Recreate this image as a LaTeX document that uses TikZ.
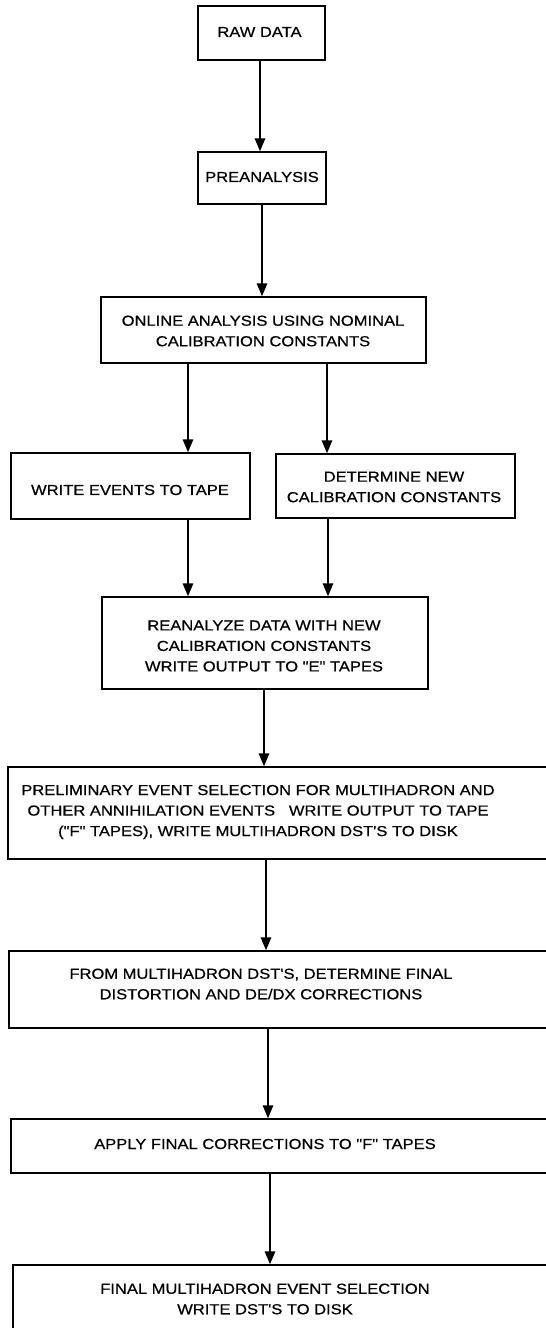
\documentclass[tikz,border=0pt]{standalone}
\usepackage{fontspec}
\newfontfamily\boxfont[FakeStretch=1.14,FakeBold=0.6]{Liberation Sans}
\usetikzlibrary{arrows.meta}
\begin{document}
\begin{tikzpicture}[x=1pt,y=-1pt,
  box/.style={draw,line width=1.5pt,inner sep=0pt},
  txt/.style={align=center,font=\boxfont\fontsize{14.5}{20.5}\selectfont,inner sep=0pt},
  arr/.style={line width=1.6pt,-{Triangle[length=13pt,width=10.5pt]}}]
\useasboundingbox (0,0) rectangle (546,1328);
\clip (0,0) rectangle (546,1328);
\fill[white] (0,0) rectangle (546,1328);
% boxes
\node[box,minimum width=127pt,minimum height=54pt] (raw) at (261.5,33) {};
\node[txt] at (259.5,32) {RAW DATA};
\node[box,minimum width=128pt,minimum height=52pt] (pre) at (262,178) {};
\node[txt] at (262,177) {PREANALYSIS};
\node[box,minimum width=325pt,minimum height=66pt] (online) at (263.5,330) {};
\node[txt] at (263,331) {ONLINE ANALYSIS USING NOMINAL\\CALIBRATION CONSTANTS};
\node[box,minimum width=239pt,minimum height=66pt] (write) at (130.5,486) {};
\node[txt] at (130,490) {WRITE EVENTS TO TAPE};
\node[box,minimum width=239pt,minimum height=64pt] (det) at (395.5,486) {};
\node[txt] at (394,487) {DETERMINE NEW\\CALIBRATION CONSTANTS};
\node[box,minimum width=326pt,minimum height=92pt] (reanal) at (265,643) {};
\node[txt] at (264,646) {REANALYZE DATA WITH NEW\\CALIBRATION CONSTANTS\\WRITE OUTPUT TO "E" TAPES};
\node[box,minimum width=552pt,minimum height=92pt] (prelim) at (284,813) {};
\node[txt] at (258,812) {PRELIMINARY EVENT SELECTION FOR MULTIHADRON AND\\OTHER ANNIHILATION EVENTS\ \ \ WRITE OUTPUT TO TAPE\\("F" TAPES), WRITE MULTIHADRON DST'S TO DISK};
\node[box,minimum width=551pt,minimum height=77pt] (from) at (284.5,989.5) {};
\node[txt] at (261,984) {FROM MULTIHADRON DST'S, DETERMINE FINAL\\DISTORTION AND DE/DX CORRECTIONS};
\node[box,minimum width=549pt,minimum height=54pt] (apply) at (285.5,1146) {};
\node[txt] at (265,1144) {APPLY FINAL CORRECTIONS TO "F" TAPES};
\node[box,minimum width=547pt,minimum height=80pt] (final) at (286.5,1305) {};
\node[txt] at (265,1299) {FINAL MULTIHADRON EVENT SELECTION\\WRITE DST'S TO DISK};
% connectors
\draw[arr] (260,0 |- raw.south) -- (260,0 |- pre.north);
\draw[arr] (262,0 |- pre.south) -- (262,0 |- online.north);
\draw[arr] (188,0 |- online.south) -- (188,0 |- write.north);
\draw[arr] (327,0 |- online.south) -- (327,0 |- det.north);
\draw[arr] (188,0 |- write.south) -- (188,0 |- reanal.north);
\draw[arr] (328,0 |- det.south) -- (328,0 |- reanal.north);
\draw[arr] (264,0 |- reanal.south) -- (264,0 |- prelim.north);
\draw[arr] (266,0 |- prelim.south) -- (266,0 |- from.north);
\draw[arr] (268,0 |- from.south) -- (268,0 |- apply.north);
\draw[arr] (270,0 |- apply.south) -- (270,0 |- final.north);
\end{tikzpicture}
\end{document}
